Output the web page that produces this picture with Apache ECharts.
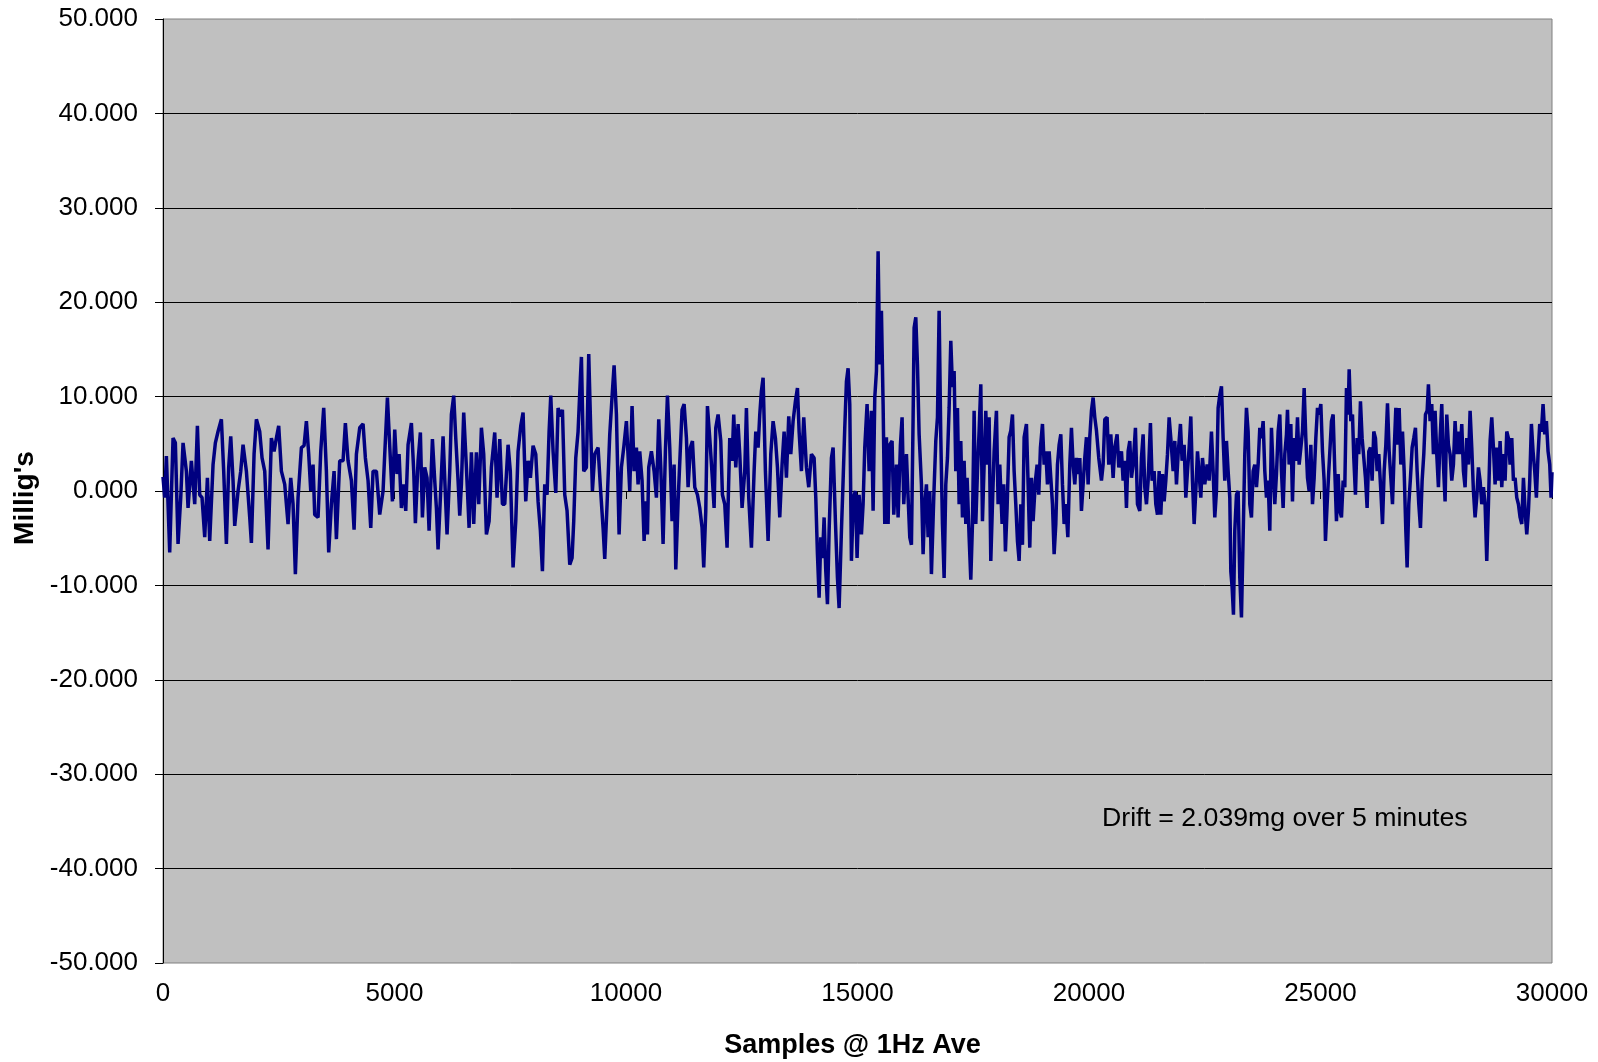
<!DOCTYPE html>
<html>
<head>
<meta charset="utf-8">
<title>Drift</title>
<script src="https://cdn.jsdelivr.net/npm/echarts@6/dist/echarts.min.js"></script>
<style>
  html, body { margin: 0; padding: 0; background: #fff; }
  #echarts { width: 1598px; height: 1062px; }
</style>
</head>
<body>
<div id="echarts"></div>
<script>
"use strict";

// sample index
var samples = [
  0,37,73,145,217,267,325,383,433,505,541,613,685,743,793,843,901,959,1009,1081,1131,1189,1261,1311,1369,1419,1463,1513,1549,1621,1679,1729,1801,1873,1909,1967,2017,2089,2139,2197,2269,2341,2399,2449,2499,2557,2629,2701,2759,2809,2859,2917,2989,3047,3097,3147,3191,3241,3277,3349,3407,3471,3529,3579,3637,3695,3745,3817,3889,3939,3997,4069,4127,4177,4249,4321,4371,4429,4487,4537,4609,4681,4753,4789,4847,
  4955,5005,5055,5099,5149,5199,5243,5293,5365,5415,5451,5509,5559,5603,5653,5703,5747,5819,5869,5905,5941,5991,6049,6099,6135,6193,6229,6279,6323,6373,6409,6445,6495,6553,6611,6661,6711,6769,6819,6877,6927,6985,7043,7093,7165,7215,7273,7331,7381,7453,7501,7561,7619,7669,7727,7777,7835,7885,7935,7993,8051,8101,8151,8195,8245,8295,8339,8375,8425,8483,8533,8583,8627,8677,8727,8785,8835,8871,8915,8965,9015,9037,9087,9145,9195,9239,9275,9325,9397,9447,9505,9541,9591,9649,9707,9743,9793,9851,9901,9951,10009,
  10081,10131,10175,10225,10261,10297,10347,10391,10427,10463,10491,10549,10607,10657,10707,10751,10801,10851,10895,10945,10995,11039,11075,11125,11169,11211,11255,11305,11341,11391,11435,11485,11543,11593,11643,11679,11723,11759,11809,11859,11903,11939,11989,12047,12083,12133,12183,12241,12291,12327,12371,12421,12457,12507,12565,12601,12651,12709,12767,12803,12853,12889,12925,12961,13011,13069,13127,13177,13227,13271,13321,13371,13415,13465,13515,13559,13609,13659,13703,13739,13789,13839,13897,13947,14005,14063,14099,14135,14171,14207,14243,14279,14315,14351,14387,14437,14473,14523,14567,14603,14653,14689,14725,14761,14797,14833,14869,14912,14955,14991,15034,
  15085,15121,15157,15207,15251,15301,15337,15373,15409,15445,15481,15517,15553,15589,15625,15661,15697,15747,15783,15841,15877,15927,15963,15999,16057,16093,16129,16165,16201,16223,16259,16295,16331,16381,16417,16453,16489,16525,16561,16597,16647,16691,16727,16763,16799,16835,16871,16907,16943,16979,17015,17051,17087,17123,17159,17195,17231,17267,17303,17339,17367,17411,17447,17483,17519,17555,17591,17627,17663,17699,17735,17771,17807,17843,17879,17915,17951,18001,18037,18073,18123,18159,18195,18231,18275,18311,18347,18383,18419,18455,18491,18527,18563,18599,18649,18685,18721,18757,18793,18843,18879,18915,18951,18995,19031,19067,19103,19139,19175,19211,19247,19283,19319,19355,19391,19427,19463,19499,19543,19585,19621,19657,19693,19729,19765,19801,19837,19873,19909,19945,19981,20017,20053,20089,20125,20161,
  20211,20269,20305,20341,20391,20427,20471,20521,20557,20607,20643,20701,20737,20773,20809,20845,20881,20917,20953,21003,21047,21097,21133,21169,21205,21241,21277,21327,21363,21407,21443,21479,21515,21551,21587,21623,21659,21695,21731,21767,21817,21853,21889,21925,21975,22011,22055,22091,22127,22163,22199,22235,22271,22307,22343,22379,22415,22451,22501,22551,22595,22645,22681,22717,22753,22789,22825,22861,22897,22933,22969,23005,23041,23063,23091,23120,23149,23185,23221,23257,23293,23329,23365,23401,23437,23473,23509,23545,23581,23617,23653,23689,23725,23761,23797,23833,23869,23905,23941,23977,24013,24049,24085,24121,24157,24193,24229,24265,24287,24323,24359,24395,24431,24467,24503,24539,24575,24611,24647,24683,24719,24755,24791,24827,24863,24899,24935,24971,25007,25043,25079,25107,25143,25179,
  25237,25273,25309,25345,25381,25417,25453,25489,25525,25561,25597,25619,25655,25691,25719,25755,25791,25827,25863,25899,25935,25971,26007,26043,26079,26115,26151,26187,26223,26259,26303,26339,26375,26411,26447,26483,26519,26555,26591,26627,26663,26699,26735,26771,26807,26843,26871,26907,26943,26979,27015,27051,27087,27123,27159,27195,27231,27267,27303,27331,27367,27403,27439,27475,27511,27547,27583,27619,27655,27691,27727,27763,27799,27835,27871,27907,27943,27979,28015,28051,28087,28123,28159,28195,28231,28267,28303,28339,28375,28411,28447,28483,28519,28555,28591,28627,28663,28699,28735,28771,28807,28843,28879,28915,28951,28987,29023,29059,29095,29131,29167,29203,29239,29275,29311,29347,29383,29419,29455,29491,29519,29555,29591,29627,29663,29699,29735,29771,29807,29843,29879,29915,29951,29980,30000
];

// milli-g reading at each sample
var milligs = [
  1.5,-0.7,3.7,-6.5,5.6,5.1,-5.6,-0.7,5.1,2.1,-1.8,3.2,-1.4,6.9,-0.4,-0.7,-4.9,1.4,-5.3,2.8,5.1,6.3,7.6,2.1,-5.6,2.5,5.8,1.1,-3.7,0,2.1,4.9,2.1,-2.8,-5.5,3.9,7.6,6.3,3.5,2.1,-6.2,5.6,4.2,5.6,6.9,2.1,0.7,-3.5,1.4,-1.4,-8.8,-0.7,4.6,4.8,7.4,3.9,0,2.8,-2.5,-2.8,4.2,8.8,2.1,-6.5,-1.4,2.1,-5.1,3.2,3.2,7.2,3.2,1.1,-4.1,3.9,6.7,7.1,3.5,1.1,-3.9,2.1,2.1,-2.5,0,3.9,9.9,
  -1.1,6.5,1.8,3.9,-1.8,0.7,-2.1,4.9,7.2,2.1,-3.4,3.2,6.2,-2.8,2.5,1.4,-4.2,5.5,1.1,-1.8,-6.2,-0.7,5.8,-0.4,-4.6,2.1,8.1,10.1,5.6,1.1,-2.6,0.7,8.3,2.5,-3.9,4.1,-3.5,4.1,-1.4,6.7,3.9,-4.6,-3.2,2.5,6.2,-0.7,5.5,-1.4,-1.4,4.9,2.1,-8.1,-3.2,4.2,6.9,8.3,-1.1,3.2,1.4,4.8,3.9,-1.1,-4.2,-8.5,0.7,-0.4,6.3,10.1,4.2,-0.2,8.8,7.9,8.6,-0.4,-2.1,-7.8,-7.1,-3.2,3.5,6.3,12.0,14.2,2.1,2.5,14.5,6.3,0,3.9,4.6,0.4,-3.9,-7.2,-1.4,6.0,10.6,13.3,8.1,-4.6,2.5,4.6,7.4,
  0,9.0,2.1,4.6,0.7,4.2,1.1,-5.3,-1.1,-4.6,2.5,4.2,2.1,-0.7,7.6,2.5,-5.6,4.2,10.1,4.6,-3.2,2.8,-8.3,-1.1,3.9,8.6,9.2,5.6,0.4,4.6,5.3,0.4,-0.4,-1.8,-3.9,-8.1,-2.1,9.0,5.6,1.8,-1.8,6.7,8.1,5.3,-0.4,-1.4,-6.0,5.6,3.2,8.1,2.5,7.1,3.9,-1.8,2.1,8.8,-0.7,-6.0,2.1,6.3,4.6,8.1,10.6,12.0,2.1,-5.3,3.9,7.4,5.6,2.5,-2.8,2.8,6.3,1.4,7.9,3.9,7.4,9.5,10.9,6.3,2.1,7.8,2.5,0.4,3.9,3.5,-0.7,-6.7,-11.3,-4.9,-7.1,-2.8,-8.5,-12.0,-4.2,3.5,4.6,-3.2,-9.2,-12.4,-4.2,1.1,6.7,11.6,13.0,9.2,-7.4,-0.7,0,-7.1,-0.4,
  -4.6,-1.4,4.6,9.2,2.1,8.5,-2.1,9.9,12.7,25.4,13.4,19.1,9.2,-3.5,5.7,-3.5,4.9,5.3,-2.5,2.8,-2.8,4.9,7.8,-1.4,3.9,-0.7,-4.9,-5.7,7.8,17.3,18.4,13.4,6.0,0.7,-6.7,-1.4,0.7,-4.9,0,-8.8,-0.7,5.3,7.8,19.1,5.7,-3.5,-9.2,0.7,3.5,8.8,15.9,11.0,12.7,2.1,8.8,-1.4,5.3,-2.8,3.2,-3.5,1.4,-4.9,-9.4,-3.5,8.5,-3.5,2.1,6.4,11.3,-3.2,2.8,8.5,2.8,7.8,-7.4,-1.4,4.2,8.5,-1.4,2.8,-3.5,0.7,-6.4,-1.8,5.7,6.4,8.1,2.1,-1.4,-5.3,-7.4,-1.4,-5.7,5.7,7.1,0.7,-6.0,1.4,-3.2,1.1,2.8,-0.4,4.6,7.1,2.8,4.2,0.7,4.2,1.4,-1.4,-6.7,-3.5,2.8,4.9,6.0,0.7,-3.5,-1.4,-4.9,2.8,6.7,2.8,0.7,3.5,1.8,3.5,-2.1,0.7,3.5,5.7,0.7,5.7,8.5,9.9,7.8,6.4,
  3.5,1.1,2.8,7.6,7.8,2.8,6.0,1.4,4.6,6.0,2.5,4.2,1.1,3.2,-1.8,4.2,5.3,1.4,2.8,6.7,-1.4,-2.1,3.5,6.0,0.4,-1.4,1.1,7.2,1.1,2.1,-1.4,-2.5,2.1,-2.5,1.8,-1.1,1.1,3.9,7.8,5.6,2.1,5.3,0.7,3.9,7.1,3.2,4.9,-0.7,2.1,4.6,7.9,1.1,-3.5,0,4.2,1.8,-0.7,3.5,0.7,2.8,1.1,6.3,2.1,-2.8,0,8.8,10.2,11.1,5.6,1.1,5.3,2.1,-0.7,-8.5,-10.2,-13.1,-4.2,-0.4,0,-9.2,-13.4,-4.9,3.9,8.8,6.3,-1.4,-2.8,2.1,2.8,0.4,2.8,6.7,5.6,7.4,2.1,-0.7,1.1,-4.2,6.7,2.1,-1.4,1.8,6.3,8.1,2.1,-1.8,3.9,6.0,8.6,2.8,7.1,-1.1,5.6,3.2,7.8,2.8,2.8,6.3,10.9,5.6,1.4,0,4.9,-1.4,1.4,5.6,8.8,8.1,9.2,4.2,1.1,-5.3,-1.4,2.1,
  7.4,8.1,2.1,-3.2,1.8,-2.1,-2.8,1.1,0.4,10.9,8.1,12.9,7.4,8.1,3.5,-0.4,5.6,3.9,9.5,5.6,3.5,1.4,-1.8,4.2,4.6,1.1,6.3,5.6,2.1,3.9,0,-3.5,2.1,4.9,9.3,4.2,1.4,-1.4,4.2,8.8,4.9,8.8,2.8,6.3,2.1,-4.2,-8.1,-1.4,1.4,4.6,5.6,6.7,2.1,-1.4,-3.9,1.1,3.9,8.1,8.5,11.3,7.4,9.2,3.9,8.5,3.9,0.4,5.6,9.2,2.8,-1.1,8.1,4.9,3.9,1.1,2.8,7.4,3.9,6.3,3.9,7.1,2.1,0.4,5.6,2.8,8.5,4.6,0,-2.8,-0.7,2.5,1.1,-1.4,0.4,-1.4,-7.4,-1.4,5.3,7.8,4.6,0.7,4.6,1.1,5.3,0.4,3.9,1.1,6.3,5.6,2.8,5.6,1.1,1.4,-0.7,-1.4,-2.8,-3.5,1.4,-2.1,-4.6,-2.1,1.1,7.1,4.2,2.1,-0.7,3.9,7.1,6.3,9.2,6.0,7.4,4.2,2.8,-0.7,2.0
];

var xTicks = [0, 5000, 10000, 15000, 20000, 25000, 30000];
var yMin = -50, yMax = 50, yStep = 10;
var note = 'Drift = 2.039mg over 5 minutes';

var FONT = '"Liberation Sans", Arial, sans-serif';

var myChart = echarts.init(document.getElementById('echarts'));

var pts = [];
for (var i = 0; i < samples.length; i++) {
    pts.push([samples[i], milligs[i]]);
}

var option = {
    animation: false,
    backgroundColor: '#fff',
    textStyle: { fontFamily: FONT },
    grid: {
        left: 163, top: 19, width: 1389, height: 944,
        outerBoundsMode: 'none',
        show: true,
        backgroundColor: '#C0C0C0',
        borderColor: '#808080',
        borderWidth: 1
    },
    xAxis: {
        type: 'value',
        min: xTicks[0],
        max: xTicks[xTicks.length - 1],
        interval: xTicks[1] - xTicks[0],
        name: 'Samples @ 1Hz Ave',
        nameLocation: 'middle',
        nameGap: 69,
        nameTextStyle: {
            fontSize: 27, fontWeight: 'bold', color: '#000', fontFamily: FONT,
            padding: [0, 10, 0, 0]
        },
        axisLine: { show: true, lineStyle: { color: '#000', width: 1 } },
        axisTick: { show: true, length: 8, lineStyle: { color: '#000' } },
        axisLabel: {
            fontSize: 26, color: '#000', margin: 18, fontFamily: FONT,
            formatter: function (v) { return String(v); }
        },
        splitLine: { show: false }
    },
    yAxis: {
        type: 'value',
        min: yMin,
        max: yMax,
        interval: yStep,
        name: "Millig's",
        nameLocation: 'middle',
        nameGap: 122,
        nameTextStyle: {
            fontSize: 28, fontWeight: 'bold', color: '#000', fontFamily: FONT,
            padding: [0, 14, 0, 0]
        },
        axisLine: { show: true, lineStyle: { color: '#000', width: 1 } },
        axisTick: { show: true, length: 8, lineStyle: { color: '#000' } },
        axisLabel: {
            fontSize: 26, color: '#000', margin: 25, fontFamily: FONT,
            formatter: function (v) { return v.toFixed(3); }
        },
        splitLine: {
            show: true,
            showMinLine: false,
            showMaxLine: false,
            lineStyle: { color: '#000', width: 1 }
        }
    },
    graphic: [{
        type: 'text',
        left: 1102,
        top: 805,
        style: { text: note, font: '26.7px ' + FONT, fill: '#000' }
    }],
    series: [{
        type: 'line',
        data: pts,
        showSymbol: false,
        lineStyle: { color: '#000080', width: 3.5 },
        itemStyle: { color: '#000080' }
    }]
};

myChart.setOption(option);
</script>
</body>
</html>
